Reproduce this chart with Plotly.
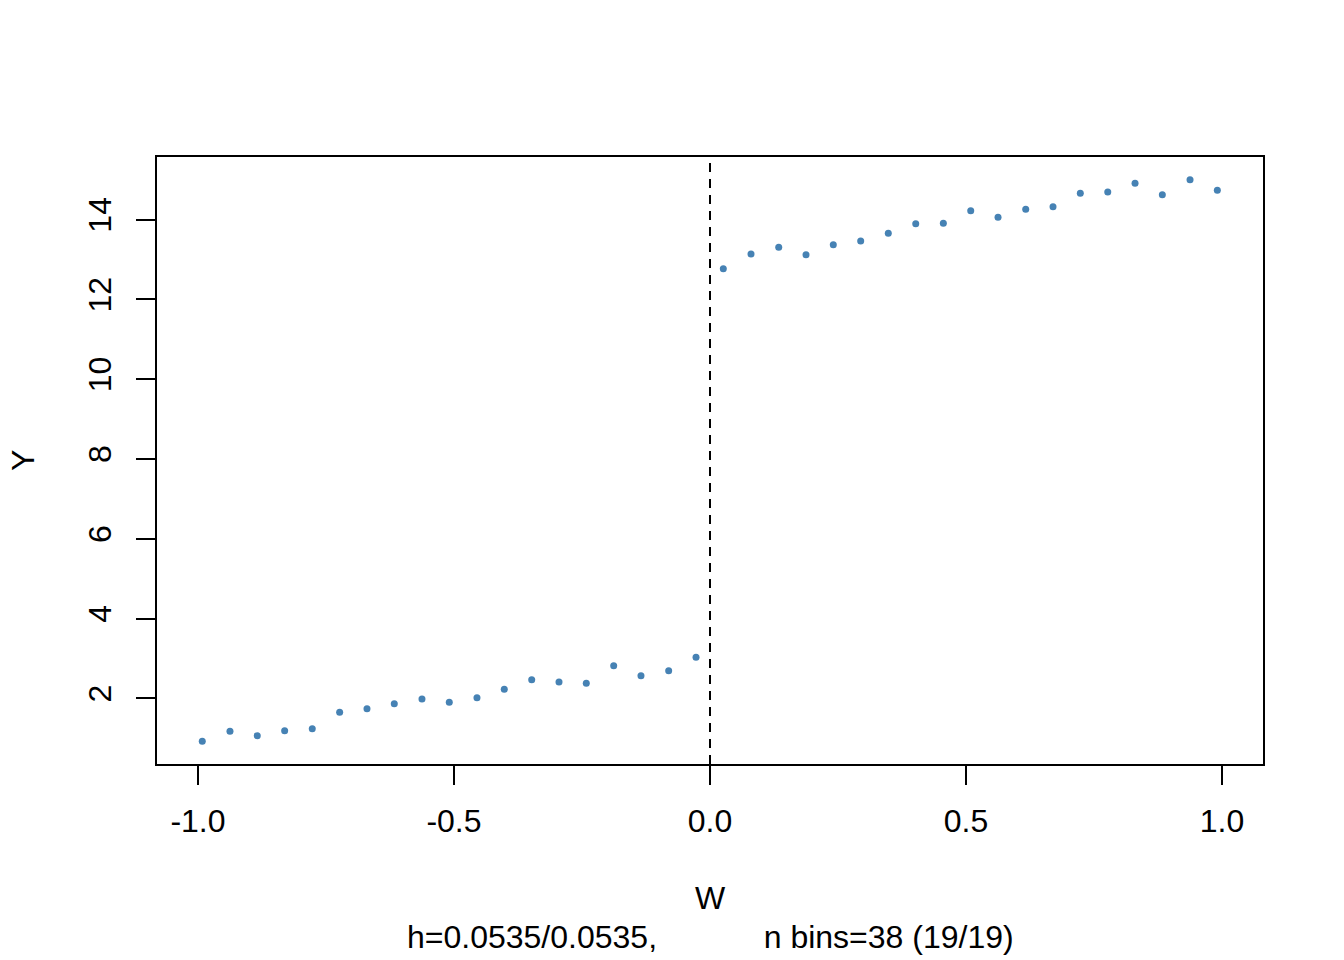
import plotly.graph_objects as go

# Left of cutoff (binned means)
x_left = [-0.9916, -0.9375, -0.8842, -0.8307, -0.7768, -0.7233, -0.6699, -0.6166,
          -0.5625, -0.5092, -0.4551, -0.4018, -0.3482, -0.2949, -0.2416, -0.1881,
          -0.1348, -0.0807, -0.0273]
y_left = [0.925, 1.176, 1.065, 1.191, 1.241, 1.652, 1.742, 1.867, 1.985, 1.902,
          2.018, 2.228, 2.469, 2.411, 2.379, 2.820, 2.569, 2.694, 3.030]

# Right of cutoff
x_right = [0.0260, 0.0801, 0.1342, 0.1875, 0.2408, 0.2943, 0.3482, 0.4018,
           0.4557, 0.5092, 0.5625, 0.6166, 0.6699, 0.7232, 0.7768, 0.8301,
           0.8834, 0.9375, 0.9908]
y_right = [12.770, 13.138, 13.306, 13.120, 13.371, 13.464, 13.657, 13.897, 13.907,
           14.223, 14.058, 14.258, 14.323, 14.659, 14.692, 14.910, 14.624, 15.000, 14.734]

x_ticks = [-1.0, -0.5, 0.0, 0.5, 1.0]
x_tick_labels = ["-1.0", "-0.5", "0.0", "0.5", "1.0"]
y_ticks = [2, 4, 6, 8, 10, 12, 14]
y_tick_labels = ["2", "4", "6", "8", "10", "12", "14"]
cutoff = 0.0

x_title = "W"
y_title = "Y"
sub_title = "h=0.0535/0.0535," + "\u00a0" * 12 + "n bins=38 (19/19)"

FONT = "Liberation Sans, Arial, Helvetica, sans-serif"
COLOR = "#4682B4"

fig = go.Figure()
fig.add_trace(go.Scatter(x=x_left + x_right, y=y_left + y_right, mode="markers",
                         marker=dict(color=COLOR, size=7, line=dict(width=0)),
                         showlegend=False, hoverinfo="x+y"))

fig.add_shape(type="line", xref="x", yref="paper", x0=cutoff, x1=cutoff, y0=0, y1=1,
              line=dict(color="black", width=2, dash="9px,7px"))

W, H = 1344, 960
L, R, T, B = 157, 81, 157, 196
plot_h = H - T - B

def py_to_paper(py):
    return (H - B - py) / plot_h

fig.update_layout(
    width=W, height=H,
    margin=dict(l=L, r=R, t=T, b=B, pad=0),
    paper_bgcolor="white", plot_bgcolor="white",
    font=dict(family=FONT, size=32, color="black"),
    xaxis=dict(range=[-1.08, 1.08], tickmode="array", tickvals=x_ticks, ticktext=x_tick_labels,
               showgrid=False, zeroline=False, showline=True, linecolor="black", linewidth=2,
               mirror=True, ticks="outside", ticklen=19, tickwidth=2, tickcolor="black",
               ticklabelstandoff=9,
               tickfont=dict(size=32, family=FONT, color="black")),
    yaxis=dict(range=[0.356, 15.57], tickmode="array", tickvals=y_ticks, ticktext=y_tick_labels,
               showgrid=False, zeroline=False, showline=True, linecolor="black", linewidth=2,
               mirror=True, ticks="outside", ticklen=19, tickwidth=2, tickcolor="black",
               tickangle=-90, ticklabelstandoff=12,
               tickfont=dict(size=32, family=FONT, color="black")),
    annotations=[
        dict(text=x_title, xref="paper", yref="paper", x=0.5, y=py_to_paper(898),
             xanchor="center", yanchor="middle", showarrow=False,
             font=dict(size=32, family=FONT, color="black")),
        dict(text=sub_title, xref="paper", yref="paper", x=0.5, y=py_to_paper(937),
             xanchor="center", yanchor="middle", showarrow=False,
             font=dict(size=32, family=FONT, color="black")),
        dict(text=y_title, xref="paper", yref="paper", x=(22.6 - L) / (W - L - R), y=0.5,
             xanchor="center", yanchor="middle", showarrow=False, textangle=-90,
             font=dict(size=32, family=FONT, color="black")),
    ],
)

fig.write_html("out.html", config={"displayModeBar": False},
               post_script="document.body.style.margin='0';document.body.style.overflow='hidden';")
